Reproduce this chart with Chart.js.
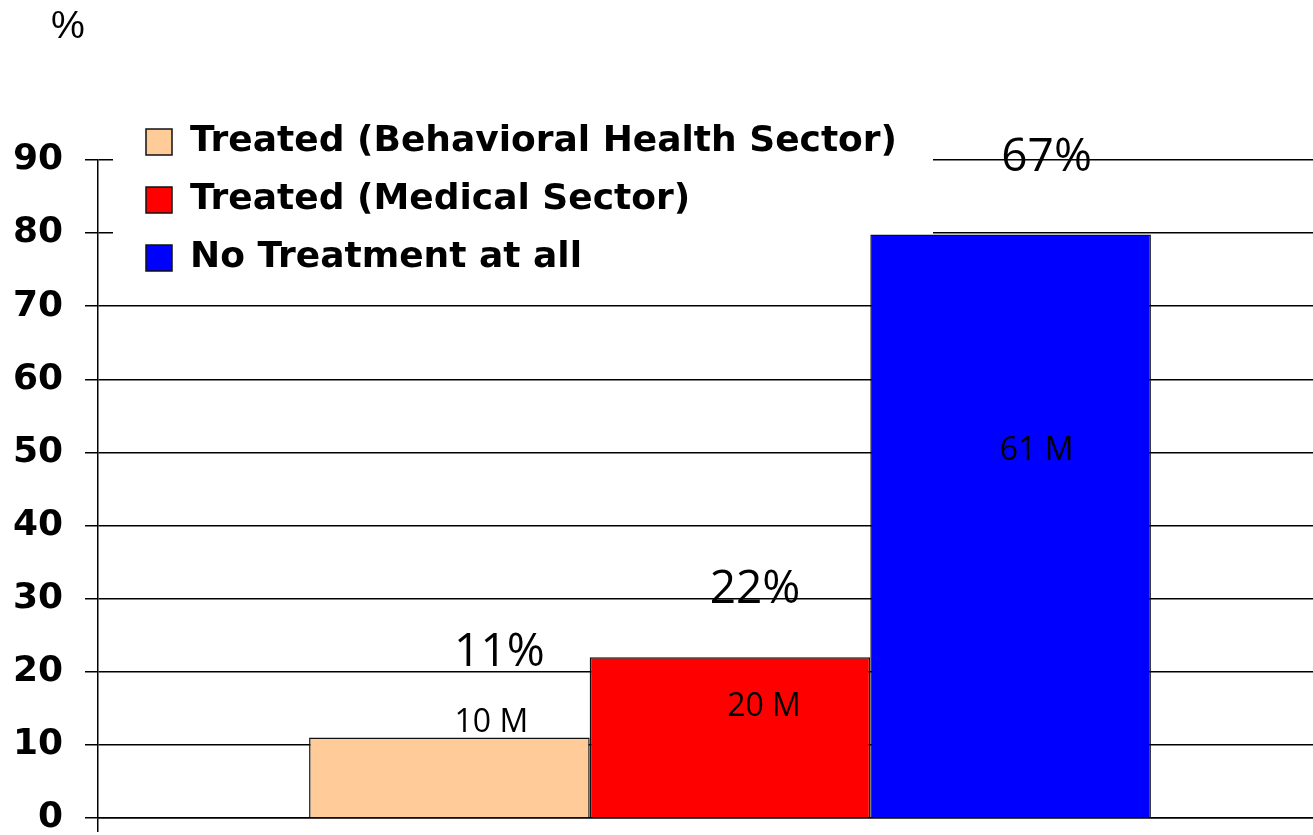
<!DOCTYPE html>
<html>
<head>
<meta charset="utf-8">
<script src="https://cdn.jsdelivr.net/npm/chart.js@4"></script>
<style>
  html, body { margin: 0; padding: 0; background: #fff; overflow: hidden; }
  #wrap { width: 1362px; height: 835px; }
</style>
</head>
<body>
<div id="wrap"><canvas id="chart"></canvas></div>
<script>
// Data
const categories = [''];
const seriesNames = ['Treated (Behavioral Health Sector)', 'Treated (Medical Sector)', 'No Treatment at all'];
const behavioral = [11];
const medical = [22];
const noTreatment = [79.8];
const pctLabels = ['11%', '22%', '67%'];
const countLabels = ['10 M', '20 M', '61 M'];
const yTicks = [0, 10, 20, 30, 40, 50, 60, 70, 80, 90];
const unitLabel = '%';

const barColors = ['#ffcc99', '#ff0000', '#0000ff'];
const lineColor = '#000000';
const boldFont = "'DejaVu Sans', Verdana, sans-serif";
const labelFont = "'Open Sans', 'Noto Sans', sans-serif";

// hand-placed text boxes, offsets from bar centre / bar top (px)
const pctOffsets = [[50, -85], [25, -67], [36, -77]];
const countOffsets = [[42, -15], [34, 50], [26, 216]];

// legend is laid over the plot with a white backing box
const legendOverlay = {
    id: 'legendOverlay',
    afterLayout(chart) {
        const lg = chart.legend;
        lg.left = 124;
        lg.top = 102;
    },
    beforeDatasetsDraw(chart) {
        const ctx = chart.ctx;
        ctx.save();
        ctx.fillStyle = '#ffffff';
        ctx.fillRect(113, 102, 820, 182);
        ctx.restore();
        chart.legend.draw();
    }
};

const textOverlay = {
    id: 'textOverlay',
    afterDatasetsDraw(chart) {
        const ctx = chart.ctx;
        ctx.save();
        ctx.fillStyle = '#000';
        ctx.textAlign = 'center';
        ctx.textBaseline = 'middle';
        chart.data.datasets.forEach((ds, i) => {
            const bar = chart.getDatasetMeta(i).data[0];
            ctx.font = "46px " + labelFont;
            ctx.fillText(pctLabels[i], bar.x + pctOffsets[i][0], bar.y + pctOffsets[i][1]);
            ctx.font = "32px " + labelFont;
            ctx.fillText(countLabels[i], bar.x + countOffsets[i][0], bar.y + countOffsets[i][1]);
        });
        // unit caption above the value axis
        ctx.textAlign = 'left';
        ctx.font = "38px 'Liberation Sans', Arial, sans-serif";
        ctx.fillText(unitLabel, 51, 28);
        ctx.restore();
    }
};

const seriesData = [behavioral, medical, noTreatment];

new Chart(document.getElementById('chart'), {
    type: 'bar',
    data: {
        labels: categories,
        datasets: seriesNames.map((name, i) => ({
            label: name,
            data: seriesData[i],
            backgroundColor: barColors[i],
            borderColor: '#111111',
            borderWidth: 1.5,
            barPercentage: 1,
            categoryPercentage: 0.666
        }))
    },
    options: {
        responsive: true,
        maintainAspectRatio: false,
        animation: false,
        layout: { padding: { left: 0, top: 160, right: 0, bottom: 3 } },
        plugins: {
            title: { display: false },
            legend: {
                position: 'chartArea',
                align: 'start',
                labels: {
                    color: '#000',
                    boxWidth: 26,
                    boxHeight: 26,
                    padding: 22,
                    font: { family: boldFont, size: 36, weight: 'bold' }
                }
            },
            tooltip: { enabled: false }
        },
        scales: {
            x: {
                ticks: { display: false },
                grid: { drawOnChartArea: false, color: lineColor, lineWidth: 1.5, tickLength: 14 },
                border: { color: lineColor, width: 1.5 }
            },
            y: {
                min: 0,
                max: 90,
                afterFit: (s) => { s.width = 98; s.paddingTop = 0; s.paddingBottom = 0; },
                afterBuildTicks: (s) => { s.ticks = yTicks.map(v => ({ value: v })); },
                ticks: {
                    color: '#000',
                    padding: 22,
                    font: { family: boldFont, size: 36, weight: 'bold' }
                },
                grid: { color: lineColor, lineWidth: 1.5, tickLength: 13 },
                border: { color: lineColor, width: 1.5 }
            }
        }
    },
    plugins: [legendOverlay, textOverlay]
});
</script>
</body>
</html>
